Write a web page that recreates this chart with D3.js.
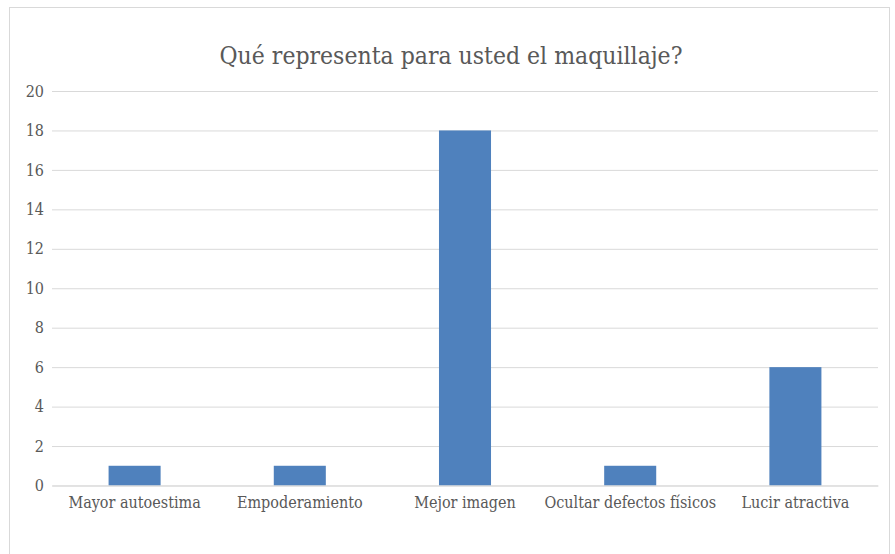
<!DOCTYPE html>
<html>
<head>
<meta charset="utf-8">
<script src="https://cdn.jsdelivr.net/npm/d3@7"></script>
<style>
  body { margin: 0; background: #fff; }
  text { font-family: "DejaVu Serif Condensed", "Liberation Serif", serif; fill: #595959; }
</style>
</head>
<body>
<svg id="chart"></svg>
<script>
const title = "Qué representa para usted el maquillaje?";
const categories = ["Mayor autoestima", "Empoderamiento", "Mejor imagen", "Ocultar defectos físicos", "Lucir atractiva"];
const values = [1, 1, 18, 1, 6];
const yTicks = [0, 2, 4, 6, 8, 10, 12, 14, 16, 18, 20];

const width = 895, height = 554;
const margin = { top: 91, right: 17, bottom: 68, left: 52 };

const svg = d3.select("#chart")
    .attr("width", width)
    .attr("height", height);

// outer frame
svg.append("rect")
    .attr("x", 9.5).attr("y", 7.5)
    .attr("width", 880).attr("height", 560)
    .attr("fill", "#fff")
    .attr("stroke", "#d9d9d9");

const x = d3.scaleBand()
    .domain(categories)
    .range([margin.left, width - margin.right])
    .paddingInner(0.685)
    .paddingOuter(0.3425);

const y = d3.scaleLinear()
    .domain([0, 20])
    .range([height - margin.bottom - 0.5, margin.top]);

svg.append("text")
    .attr("x", 451)
    .attr("y", 64)
    .attr("text-anchor", "middle")
    .style("font-size", "24.5px")
    .text(title);

const yAxis = svg.append("g")
    .attr("transform", `translate(${margin.left},0)`)
    .call(d3.axisLeft(y).tickValues(yTicks).tickSize(-(width - margin.left - margin.right)).tickPadding(8));
yAxis.select(".domain").remove();
yAxis.selectAll("line").attr("stroke", "#d9d9d9");
yAxis.selectAll("text").style("font-size", "16px");

svg.append("g")
    .selectAll("rect")
    .data(values)
    .join("rect")
    .attr("x", (d, i) => x(categories[i]))
    .attr("y", d => y(d))
    .attr("width", x.bandwidth())
    .attr("height", d => y(0) - y(d))
    .attr("fill", "#4f81bd");

const xAxis = svg.append("g")
    .attr("transform", `translate(0,${y(0)})`)
    .call(d3.axisBottom(x).tickSize(0).tickPadding(11));
xAxis.select(".domain").attr("stroke", "#d9d9d9");
xAxis.selectAll("text").style("font-size", "16px");
</script>
</body>
</html>
